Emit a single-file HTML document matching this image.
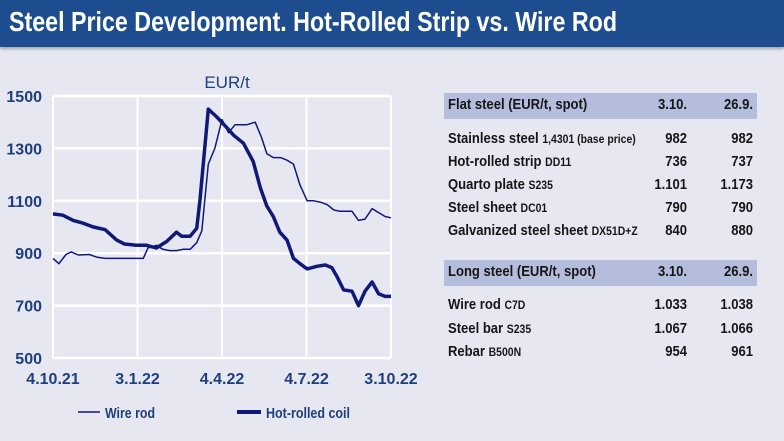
<!DOCTYPE html>
<html><head><meta charset="utf-8"><style>
body{margin:0;width:784px;height:441px;background:#e7e7f1;overflow:hidden;font-family:"Liberation Sans",sans-serif;position:relative}
#hdr{position:absolute;left:0;top:0;width:784px;height:47px;background:#1d4d8e;box-shadow:0 2px 3px #9aa}
#hdr span{position:absolute;left:9px;top:6px;color:#fff;font-weight:bold;font-size:28px;white-space:nowrap;transform:scaleX(0.83);transform-origin:left top}
.t{position:absolute;font-size:15px;font-weight:bold;color:#161616;white-space:nowrap;transform:scaleX(0.87);transform-origin:left top}
.band{position:absolute;left:444px;width:313px;height:26px;background:#b5bddd}
.r{text-align:right;transform-origin:right top}
small{font-size:12px}
</style></head><body>
<div id="hdr"><span>Steel Price Development. Hot-Rolled Strip vs. Wire Rod</span></div>
<svg id="chart" width="784" height="441" style="position:absolute;left:0;top:0"></svg>
<script>
const yTicks=[500,700,900,1100,1300,1500];
const xTickLabels=["4.10.21","3.1.22","4.4.22","4.7.22","3.10.22"];
const xTickWeeks=[0,13,26,39,52];
const hrcWeeks=[0,1.5,3.1,4.6,6.2,8,9.8,11,12.8,14.4,15.9,17.5,19,19.8,21.1,22.1,22.6,23.9,25.2,26.7,27.8,29.3,30.8,31.9,32.9,33.9,34.9,36,37,38,39.1,40.6,41.9,42.9,43.7,44.7,46,47,48,49.1,50.1,51.1,52];
const hrcValues=[1050,1045,1025,1015,1000,990,950,935,930,930,920,945,980,965,965,995,1100,1450,1420,1380,1350,1320,1250,1150,1080,1040,980,950,880,860,840,850,855,845,810,760,755,700,755,790,745,735,735];
const wireWeeks=[0,0.9,2,2.8,3.9,5.6,6.7,8,13.9,14.6,15.9,16.9,18,19,20,21.1,22.1,22.9,23.9,24.9,26,27,28,29.8,31.1,32.1,32.9,33.9,35,36,37,38,39.1,40.1,41.1,42.2,43.2,44.2,46,47,48,49.1,50.1,51.1,52];
const wireValues=[880,860,895,905,893,895,885,880,880,920,930,915,910,910,915,915,940,985,1240,1300,1410,1360,1390,1390,1400,1340,1280,1265,1265,1255,1240,1160,1100,1100,1095,1085,1065,1060,1060,1025,1030,1070,1055,1040,1035];
const NS='http://www.w3.org/2000/svg';
const svg=document.getElementById('chart');
const X0=53,X1=391,Y0=358,Y1=96;
const xs=w=>X0+(X1-X0)*w/52;
const ys=v=>Y0-(Y0-Y1)*(v-500)/1000;
function mk(tag,attrs){const e=document.createElementNS(NS,tag);for(const k in attrs)e.setAttribute(k,attrs[k]);svg.appendChild(e);return e;}
const bg=mk('rect',{x:X0,y:Y1,width:X1-X0,height:Y0-Y1,fill:'#e7e7f1'});


yTicks.forEach(v=>{
 const l=mk('line',{x1:X0,x2:X1,y1:ys(v),y2:ys(v),stroke:'#fff','stroke-width':2.5});
 
 
 const t=mk('text',{x:42,y:ys(v)+6,'text-anchor':'end','font-size':16,'font-weight':'bold',fill:'#1d3f7e','font-family':'Liberation Sans, sans-serif'});
 t.textContent=v;
 
 
});
xTickWeeks.forEach((w,i)=>{
 const l=mk('line',{x1:xs(w),x2:xs(w),y1:Y1,y2:Y0,stroke:'#fff','stroke-width':2});
 
 
 const t=mk('text',{x:xs(w),y:384,'text-anchor':'middle','font-size':16,'font-weight':'bold',fill:'#1d3f7e','font-family':'Liberation Sans, sans-serif'});
 t.textContent=xTickLabels[i];
 
 
});
const ut=mk('text',{x:227,y:88,'text-anchor':'middle','font-size':17,fill:'#1d3f7e','font-family':'Liberation Sans, sans-serif'});
ut.textContent='EUR/t';


const pts=(W,V)=>W.map((w,i)=>xs(w).toFixed(1)+','+ys(V[i]).toFixed(1)).join(' ');
const wl=mk('polyline',{points:pts(wireWeeks,wireValues),fill:'none',stroke:'#0f1a78','stroke-width':1.5,'stroke-linejoin':'round'});


const hl=mk('polyline',{points:pts(hrcWeeks,hrcValues),fill:'none',stroke:'#0f1a78','stroke-width':3.5,'stroke-linejoin':'round'});


const l1=mk('line',{x1:78,x2:100,y1:412,y2:412,stroke:'#0f1a78','stroke-width':1.5});


const t1=mk('text',{x:105,y:418,'font-size':15,'font-weight':'bold',fill:'#1d3f7e','font-family':'Liberation Sans, sans-serif',textLength:50,lengthAdjust:'spacingAndGlyphs'});
t1.textContent='Wire rod';


const l2=mk('line',{x1:237,x2:261,y1:412,y2:412,stroke:'#0f1a78','stroke-width':4});


const t2=mk('text',{x:266,y:418,'font-size':15,'font-weight':'bold',fill:'#1d3f7e','font-family':'Liberation Sans, sans-serif',textLength:84,lengthAdjust:'spacingAndGlyphs'});
t2.textContent='Hot-rolled coil';


</script>
<div class="band" style="top:93px"></div>
<div class="band" style="top:260px"></div>
<div class="t" style="left:448px;top:96px">Flat steel (EUR/t, spot)</div>
<div class="t r" style="left:620px;width:67px;top:96px">3.10.</div>
<div class="t r" style="left:690px;width:63px;top:96px">26.9.</div>
<div class="t" style="left:448px;top:130px">Stainless steel <small>1,4301 (base price)</small></div>
<div class="t r" style="left:620px;width:67px;top:130px">982</div><div class="t r" style="left:690px;width:63px;top:130px">982</div>
<div class="t" style="left:448px;top:153px">Hot-rolled strip <small>DD11</small></div>
<div class="t r" style="left:620px;width:67px;top:153px">736</div><div class="t r" style="left:690px;width:63px;top:153px">737</div>
<div class="t" style="left:448px;top:176px">Quarto plate <small>S235</small></div>
<div class="t r" style="left:620px;width:67px;top:176px">1.101</div><div class="t r" style="left:690px;width:63px;top:176px">1.173</div>
<div class="t" style="left:448px;top:199px">Steel sheet <small>DC01</small></div>
<div class="t r" style="left:620px;width:67px;top:199px">790</div><div class="t r" style="left:690px;width:63px;top:199px">790</div>
<div class="t" style="left:448px;top:222px">Galvanized steel sheet <small>DX51D+Z</small></div>
<div class="t r" style="left:620px;width:67px;top:222px">840</div><div class="t r" style="left:690px;width:63px;top:222px">880</div>
<div class="t" style="left:448px;top:263px">Long steel (EUR/t, spot)</div>
<div class="t r" style="left:620px;width:67px;top:263px">3.10.</div>
<div class="t r" style="left:690px;width:63px;top:263px">26.9.</div>
<div class="t" style="left:448px;top:296px">Wire rod <small>C7D</small></div>
<div class="t r" style="left:620px;width:67px;top:296px">1.033</div><div class="t r" style="left:690px;width:63px;top:296px">1.038</div>
<div class="t" style="left:448px;top:320px">Steel bar <small>S235</small></div>
<div class="t r" style="left:620px;width:67px;top:320px">1.067</div><div class="t r" style="left:690px;width:63px;top:320px">1.066</div>
<div class="t" style="left:448px;top:343px">Rebar <small>B500N</small></div>
<div class="t r" style="left:620px;width:67px;top:343px">954</div><div class="t r" style="left:690px;width:63px;top:343px">961</div>
</body></html>
